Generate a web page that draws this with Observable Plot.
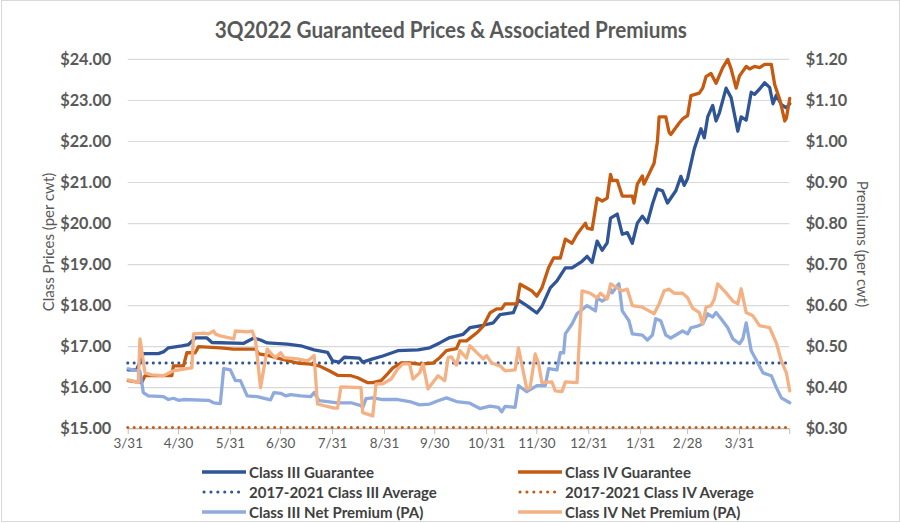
<!DOCTYPE html>
<html><head><meta charset="utf-8">
<script src="https://cdn.jsdelivr.net/npm/d3@7"></script>
<script src="https://cdn.jsdelivr.net/npm/@observablehq/plot@0.6"></script>
<style>
body{margin:0;background:#fff;}
#chart{position:relative;width:897px;height:520px;border:1px solid #d9d9d9;margin-left:1px;font-family:Lato,"Open Sans",sans-serif;overflow:hidden;background:#fff}
#title{position:absolute;top:14px;left:0;width:100%;text-align:center;font-weight:bold;font-size:23px;line-height:28px;color:#595959;transform:scaleX(0.9);transform-origin:452px 0}
#plot{position:absolute;top:43px;left:-1px}
.ytitle{position:absolute;font-size:15px;color:#595959;white-space:nowrap;line-height:18px}
.leg{position:absolute;display:flex;align-items:center;font-weight:bold;font-size:15px;color:#404040;white-space:nowrap}
.leg svg{margin-right:3px}
</style>
</head><body>
<div id="chart">
  <div id="title">3Q2022 Guaranteed Prices &amp; Associated Premiums</div>
  <div id="plot"></div>
  <div class="ytitle" style="left:46px;top:241px;transform:translate(-50%,-50%) rotate(-90deg)">Class Prices (per cwt)</div>
  <div class="ytitle" style="left:861px;top:243px;transform:translate(-50%,-50%) rotate(90deg)">Premiums (per cwt)</div>
  <div id="legend"></div>
</div>
<script>
// Day offsets from 2021-03-31
const class3Guarantee = [[0,16.43],[5,16.43],[9,16.83],[18,16.83],[21,16.87],[24,16.97],[32,17.02],[36,17.05],[40,17.21],[47,17.21],[50,17.1],[69,17.08],[75,17.21],[79,17.16],[83,17.09],[95,17.06],[103,17.02],[111,16.92],[119,16.86],[122,16.65],[126,16.62],[129,16.74],[138,16.72],[140,16.62],[146,16.7],[152,16.77],[161,16.9],[173,16.92],[180,16.97],[186,17.09],[192,17.22],[200,17.3],[204,17.46],[212,17.52],[218,17.58],[222,17.78],[230,17.83],[233,18.13],[238,18.0],[244,17.82],[247,17.98],[252,18.43],[256,18.6],[261,18.92],[265,18.92],[271,19.08],[274,19.2],[277,19.05],[280,19.57],[283,19.35],[286,19.53],[288,20.13],[292,20.23],[295,19.74],[298,19.78],[301,19.52],[304,20.01],[307,20.18],[310,20.02],[313,20.47],[316,20.84],[319,20.8],[322,20.5],[327,20.8],[330,21.15],[332,20.93],[334,21.1],[338,21.82],[342,22.31],[344,22.09],[346,22.6],[349,22.88],[351,22.5],[353,22.7],[357,23.3],[360,23.07],[364,22.25],[366,22.6],[369,22.52],[372,23.2],[374,23.15],[377,23.28],[380,23.43],[383,23.32],[385,22.92],[387,23.13],[390,22.9],[393,22.82],[395,22.92]];

const class4Guarantee = [[0,16.17],[8,16.12],[10,16.29],[26,16.29],[27,16.53],[33,16.53],[35,16.85],[40,16.85],[42,17.0],[55,16.97],[63,16.94],[76,16.94],[78,16.82],[84,16.78],[91,16.7],[101,16.6],[109,16.57],[114,16.53],[120,16.41],[125,16.3],[133,16.29],[137,16.24],[143,16.12],[146,16.12],[151,16.17],[155,16.34],[158,16.48],[163,16.6],[168,16.6],[174,16.57],[182,16.6],[186,16.73],[190,16.9],[192,16.92],[196,16.95],[198,17.14],[202,17.14],[208,17.33],[212,17.5],[216,17.82],[220,17.92],[223,17.92],[225,18.04],[232,18.04],[234,18.52],[238,18.43],[241,18.36],[244,18.23],[247,18.43],[251,18.92],[254,19.16],[258,19.16],[261,19.62],[265,19.52],[268,19.74],[273,20.01],[274,19.89],[277,19.86],[280,20.62],[283,20.55],[286,20.62],[288,21.2],[289,21.05],[292,21.05],[295,20.67],[301,20.67],[302,20.5],[304,20.96],[307,21.16],[308,20.96],[314,21.47],[316,22.0],[317,22.6],[321,22.6],[323,22.22],[324,22.17],[329,22.45],[331,22.55],[334,22.63],[336,23.12],[341,23.18],[343,23.3],[345,23.58],[348,23.66],[351,23.42],[355,23.8],[358,24.0],[360,23.77],[363,23.3],[365,23.6],[369,23.83],[371,23.77],[374,23.83],[377,23.8],[380,23.88],[384,23.88],[386,23.39],[389,23.03],[390,22.86],[392,22.5],[393,22.57],[395,23.05]];

const class3Premium = [[0,0.446],[7,0.44],[9,0.388],[12,0.38],[21,0.378],[24,0.371],[27,0.374],[30,0.369],[33,0.371],[48,0.369],[51,0.363],[55,0.361],[57,0.446],[61,0.443],[64,0.417],[67,0.417],[71,0.38],[77,0.378],[85,0.37],[87,0.388],[91,0.386],[94,0.38],[97,0.383],[103,0.38],[109,0.378],[111,0.388],[114,0.368],[119,0.366],[125,0.363],[133,0.363],[139,0.356],[140,0.351],[142,0.373],[146,0.375],[152,0.371],[161,0.371],[168,0.366],[174,0.358],[180,0.36],[185,0.368],[190,0.375],[196,0.366],[204,0.362],[210,0.349],[216,0.355],[221,0.352],[223,0.341],[225,0.354],[231,0.352],[233,0.405],[238,0.39],[244,0.405],[249,0.405],[251,0.446],[256,0.443],[258,0.485],[260,0.485],[261,0.531],[265,0.555],[268,0.58],[274,0.6],[279,0.587],[280,0.619],[283,0.611],[286,0.619],[288,0.64],[289,0.631],[292,0.648],[293,0.653],[295,0.587],[299,0.563],[301,0.531],[307,0.528],[310,0.516],[313,0.528],[315,0.568],[318,0.563],[321,0.528],[324,0.521],[331,0.538],[334,0.531],[336,0.546],[340,0.55],[343,0.555],[346,0.58],[349,0.572],[351,0.583],[354,0.568],[358,0.546],[361,0.519],[365,0.507],[367,0.519],[369,0.558],[372,0.49],[376,0.46],[379,0.436],[384,0.429],[387,0.4],[390,0.375],[395,0.363]];

const class4Premium = [[0,0.419],[6,0.412],[7,0.519],[10,0.436],[14,0.431],[21,0.429],[27,0.441],[35,0.446],[38,0.448],[39,0.531],[45,0.533],[48,0.531],[51,0.538],[52,0.531],[55,0.526],[63,0.519],[64,0.538],[71,0.536],[74,0.538],[76,0.516],[79,0.4],[83,0.494],[86,0.48],[88,0.473],[91,0.485],[93,0.473],[101,0.47],[107,0.465],[111,0.478],[113,0.36],[123,0.35],[125,0.35],[127,0.402],[139,0.4],[140,0.339],[146,0.331],[148,0.409],[152,0.409],[157,0.421],[161,0.446],[164,0.458],[168,0.458],[170,0.421],[174,0.436],[176,0.458],[179,0.397],[185,0.429],[189,0.417],[191,0.473],[193,0.475],[196,0.455],[198,0.49],[202,0.472],[204,0.502],[208,0.486],[212,0.47],[214,0.478],[217,0.46],[222,0.453],[225,0.441],[231,0.443],[233,0.497],[238,0.397],[240,0.4],[243,0.482],[245,0.46],[247,0.412],[253,0.414],[255,0.392],[259,0.39],[261,0.414],[268,0.412],[271,0.636],[276,0.63],[280,0.619],[282,0.63],[286,0.616],[288,0.653],[292,0.643],[295,0.636],[298,0.64],[301,0.6],[307,0.596],[311,0.587],[314,0.58],[317,0.604],[320,0.636],[323,0.64],[326,0.63],[331,0.63],[334,0.619],[337,0.594],[341,0.583],[343,0.555],[345,0.596],[348,0.6],[350,0.616],[352,0.653],[357,0.631],[361,0.611],[364,0.604],[366,0.641],[369,0.583],[373,0.575],[377,0.551],[383,0.546],[387,0.509],[390,0.465],[393,0.436],[395,0.392]];

const class3Average = 16.60;
const class4Average = 15.03;

const priceTicks = [15,16,17,18,19,20,21,22,23,24];
const xTickDates = ["2021-03-31","2021-04-30","2021-05-31","2021-06-30","2021-07-31","2021-08-31","2021-09-30","2021-10-31","2021-11-30","2021-12-31","2022-01-31","2022-02-28","2022-03-31","2022-04-30"];

const C3 = "#2F5597", C4 = "#C55A11", C3P = "#8FAADC", C4P = "#F4B183";
const base = Date.UTC(2021,2,31);
const toDate = d => new Date(base + d*864e5);
const premToPrice = p => 15 + (p - 0.3) * 10;
const ticks = xTickDates.map(s => new Date(s + "T00:00:00Z"));
const fmt = d3.utcFormat("%-m/%-d");
const lastTick = ticks[ticks.length-1].getTime();

const lineOpts = (stroke, yf) => ({x: d => toDate(d[0]), y: yf, stroke, strokeWidth: 3.3, strokeLinejoin: "round", strokeLinecap: "round"});
const dotted = stroke => ({stroke, strokeWidth: 3, strokeDasharray: "0.1 6.3", strokeLinecap: "round"});

const chart = Plot.plot({
  width: 900, height: 415,
  marginTop: 15, marginBottom: 30, marginLeft: 127, marginRight: 110,
  style: {fontFamily: "Lato, 'Open Sans', sans-serif", color: "#595959", background: "transparent", overflow: "visible"},
  x: {type: "utc", domain: [toDate(0), ticks[ticks.length-1]]},
  y: {domain: [15, 24]},
  marks: [
    Plot.gridY(priceTicks, {stroke: "#d9d9d9", strokeOpacity: 1, strokeWidth: 1.2}),
    Plot.ruleY([15], {stroke: "#bfbfbf", strokeWidth: 1.2}),
    Plot.axisX(ticks, {tickSize: 6, stroke: "#bfbfbf", tickPadding: 4, fontSize: 13.5, fill: "#595959",
      tickFormat: d => d.getTime() === lastTick ? "" : fmt(d), label: null}),
    Plot.axisY(priceTicks, {anchor: "left", tickSize: 0, tickPadding: 17, fontSize: 16.3, fontWeight: "bold", fill: "#595959",
      tickFormat: d => "$" + d.toFixed(2), label: null}),
    Plot.axisY(priceTicks, {anchor: "right", tickSize: 0, tickPadding: 16, fontSize: 16.3, fontWeight: "bold", fill: "#595959",
      tickFormat: d => "$" + (0.3 + (d - 15) * 0.1).toFixed(2), label: null}),
    Plot.ruleY([class3Average], dotted(C3)),
    Plot.ruleY([class4Average], dotted(C4)),
    Plot.line(class3Guarantee, lineOpts(C3, d => d[1])),
    Plot.line(class4Guarantee, lineOpts(C4, d => d[1])),
    Plot.line(class3Premium, lineOpts(C3P, d => premToPrice(d[1]))),
    Plot.line(class4Premium, lineOpts(C4P, d => premToPrice(d[1])))
  ]
});
document.getElementById("plot").appendChild(chart);

const legendItems = [
  {label: "Class III Guarantee", color: C3, dot: false, x: 201, y: 472},
  {label: "Class IV Guarantee", color: C4, dot: false, x: 517, y: 472},
  {label: "2017-2021 Class III Average", color: C3, dot: true, x: 201, y: 492},
  {label: "2017-2021 Class IV Average", color: C4, dot: true, x: 517, y: 492},
  {label: "Class III Net Premium (PA)", color: C3P, dot: false, x: 201, y: 512},
  {label: "Class IV Net Premium (PA)", color: C4P, dot: false, x: 517, y: 512}
];
const lg = document.getElementById("legend");
for (const it of legendItems) {
  const div = document.createElement("div");
  div.className = "leg";
  div.style.left = (it.x - 1) + "px";
  div.style.top = (it.y - 11) + "px";
  div.style.height = "20px";
  const sample = it.dot
    ? `<svg width="44" height="8"><line x1="2" y1="4" x2="38" y2="4" stroke="${it.color}" stroke-width="3" stroke-dasharray="0.1 6.8" stroke-linecap="round"/></svg>`
    : `<svg width="44" height="8"><line x1="0" y1="4" x2="44" y2="4" stroke="${it.color}" stroke-width="3.3"/></svg>`;
  div.innerHTML = sample + `<span>${it.label}</span>`;
  lg.appendChild(div);
}
</script>
</body></html>
